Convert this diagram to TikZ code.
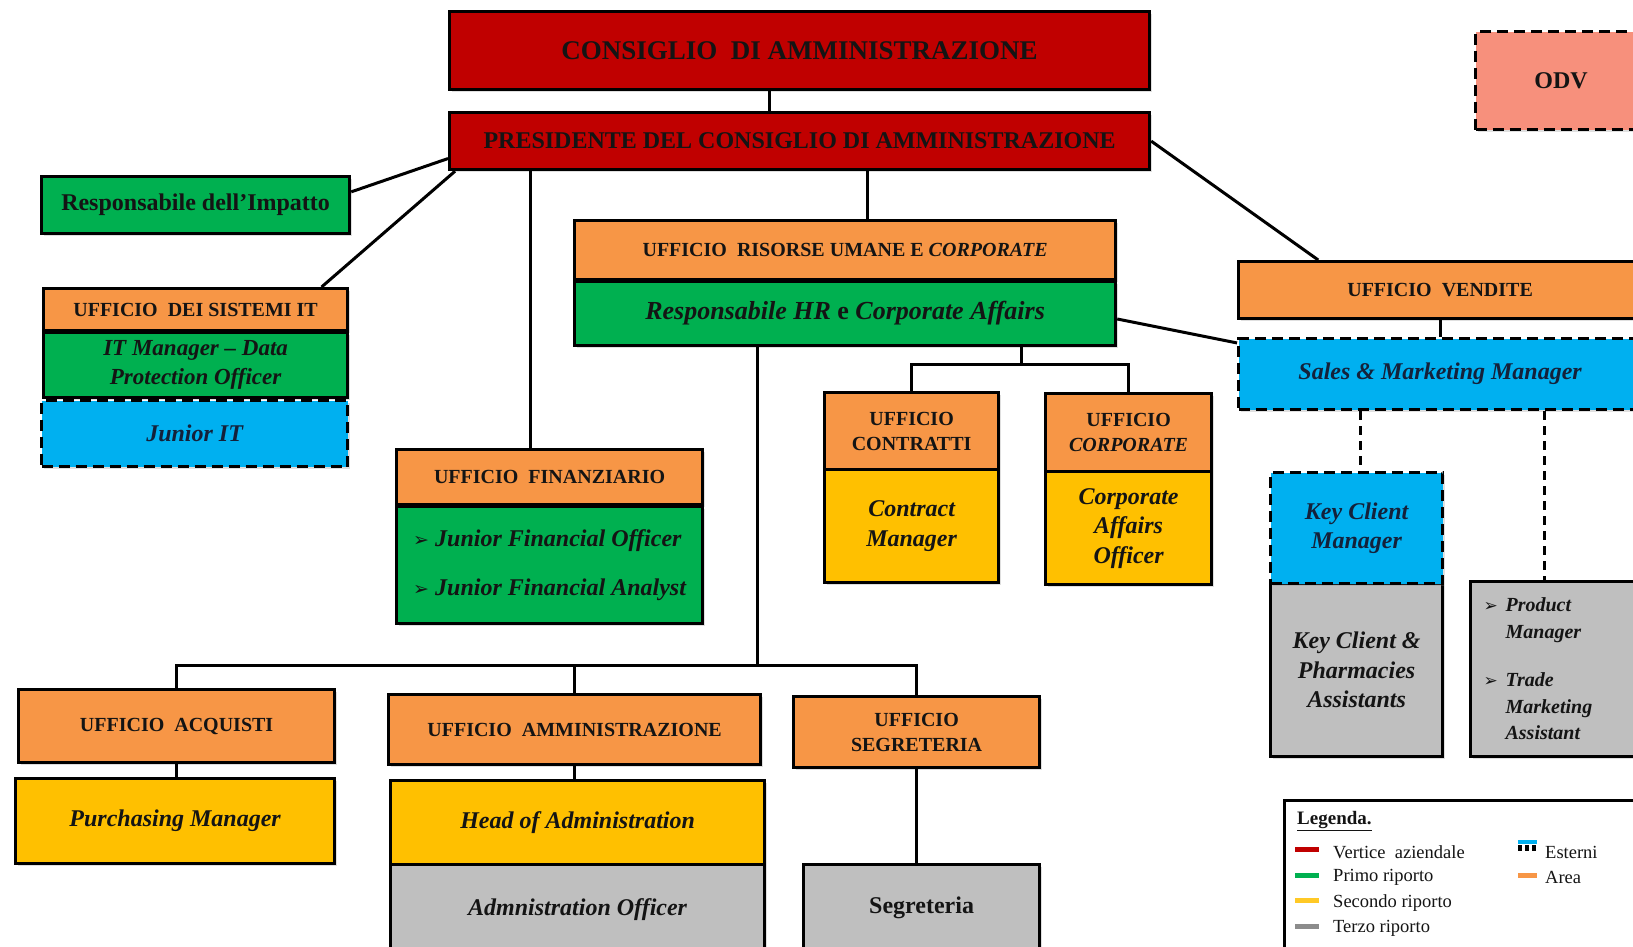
\documentclass[tikz,border=0pt]{standalone}
\usepackage{fontspec}
\setmainfont{Liberation Serif}
\newfontfamily\dejavu{DejaVu Sans}
\usetikzlibrary{calc,shadows}
\definecolor{cred}{HTML}{C00000}
\definecolor{corange}{HTML}{F79646}
\definecolor{cgreen}{HTML}{00B050}
\definecolor{cyellow}{HTML}{FFC000}
\definecolor{cblue}{HTML}{00B0F0}
\definecolor{cgray}{HTML}{BFBFBF}
\definecolor{csalmon}{HTML}{F7907C}
\definecolor{txt}{HTML}{141414}
\definecolor{navy}{HTML}{14213A}
\definecolor{lgray}{HTML}{8C8C8C}
\newcommand{\fs}[2]{\fontsize{#1}{#2}\selectfont}
\newcommand{\bul}[1]{{\dejavu\fontsize{#1}{#1}\selectfont ➢}}
\newcommand{\bx}[7]{%
  \node[#6, anchor=north west, minimum width={(#4)-(#2)}, minimum height={(#5)-(#3)}] (#1) at (#2,#3) {#7};}
\begin{document}
\begin{tikzpicture}[x=1pt,y=-1pt,
  box/.style={draw=black, line width=3.2pt, inner sep=2pt, align=center, text=txt,
    drop shadow={shadow xshift=2.5pt, shadow yshift=-2.5pt, opacity=0.25}},
  dbox/.style={box, dash pattern=on 11pt off 6pt},
  redbox/.style={box, fill=cred},
  orbox/.style={box, fill=corange, font=\bfseries\fs{20}{25}},
  grbox/.style={box, fill=cgreen},
  yebox/.style={box, fill=cyellow},
  blbox/.style={dbox, fill=cblue, text=navy},
  gybox/.style={box, fill=cgray},
  role/.style={font=\bfseries\itshape\fs{24}{29.5}},
  conn/.style={line width=3pt, line join=miter},
  dconn/.style={conn, dash pattern=on 9pt off 6pt},
  legline/.style={line width=5pt},
  legtext/.style={anchor=west, inner sep=0pt, font=\fs{18.5}{22}, text=txt}]
\clip (0,0) rectangle (1633,946);
\fill[white] (0,0) rectangle (1633,946);

% top
\bx{cda}{448}{10}{1148}{88}{redbox, font=\bfseries\fs{27}{32}}{CONSIGLIO\ \ DI AMMINISTRAZIONE}
\bx{pres}{448}{111}{1148}{168}{redbox, font=\bfseries\fs{24}{29}}{PRESIDENTE DEL CONSIGLIO DI AMMINISTRAZIONE}
\bx{odv}{1474}{30}{1645}{128}{dbox, fill=csalmon, font=\bfseries\fs{24}{29}}{ODV}

% left column
\bx{imp}{40}{175}{348}{232}{grbox, font=\bfseries\fs{24}{29}}{Responsabile dell’Impatto}
\bx{ith}{42}{287}{346}{329}{orbox}{UFFICIO\ \ DEI SISTEMI IT}
\bx{itm}{42}{331}{346}{396}{grbox, font=\bfseries\itshape\fs{23}{28.5}}{IT Manager – Data\\Protection Officer}
\bx{jit}{40}{399}{346}{465}{blbox, role}{Junior IT}

% finance
\bx{finh}{395}{448}{701}{503}{orbox}{UFFICIO\ \ FINANZIARIO}
\bx{finb}{395}{505}{701}{622}{grbox, role, align=left}{\makebox[22pt][l]{\bul{19}}Junior Financial Officer\\[20pt]\makebox[22pt][l]{\bul{19}}Junior Financial Analyst}

% HR
\bx{hrh}{573}{219}{1114}{278}{orbox}{UFFICIO\ \ RISORSE UMANE E \textit{CORPORATE}}
\bx{hrb}{573}{280}{1114}{344}{grbox, font=\bfseries\fs{26}{31}}{\textit{Responsabile HR} e \textit{Corporate Affairs}}
\bx{conh}{823}{391}{997}{468}{orbox}{UFFICIO\\CONTRATTI}
\bx{conb}{823}{468}{997}{581}{yebox, role}{Contract\\Manager}
\bx{corh}{1044}{392}{1210}{470}{orbox}{UFFICIO\\\textit{CORPORATE}}
\bx{corb}{1044}{470}{1210}{583}{yebox, role}{Corporate\\Affairs\\Officer}

% sales
\bx{venh}{1237}{260}{1640}{317}{orbox}{UFFICIO\ \ VENDITE}
\bx{smm}{1237}{337}{1640}{408}{blbox, role}{Sales \& Marketing Manager}
\bx{kca}{1269}{582}{1441}{755}{gybox, role}{Key Client \&\\Pharmacies\\Assistants}
\bx{kcm}{1269}{471}{1441}{582}{blbox, role}{Key Client\\Manager}
\bx{prd}{1469}{580}{1650}{755}{gybox, font=\bfseries\itshape\fs{20}{26.5}, align=left, text width=155pt, inner xsep=13pt}{\makebox[22pt][l]{\bul{17}}Product\\\hspace*{22pt}Manager\\[22pt]\makebox[22pt][l]{\bul{17}}Trade\\\hspace*{22pt}Marketing\\\hspace*{22pt}Assistant}

% bottom row
\bx{acqh}{17}{688}{333}{761}{orbox}{UFFICIO\ \ ACQUISTI}
\bx{acqb}{14}{777}{333}{862}{yebox, role}{Purchasing Manager}
\bx{admh}{387}{693}{759}{763}{orbox}{UFFICIO\ \ AMMINISTRAZIONE}
\bx{admb}{389}{779}{763}{863}{yebox, role}{Head of Administration}
\bx{ado}{389}{863}{763}{952}{gybox, role}{Admnistration Officer}
\bx{segh}{792}{695}{1038}{766}{orbox}{UFFICIO\\SEGRETERIA}
\bx{segb}{802}{863}{1038}{950}{gybox, font=\bfseries\fs{24}{29}}{Segreteria}

% connector coordinates
\coordinate (c1) at (769,0);
\coordinate (f1) at (530,0);
\coordinate (h1) at (867,0);
\coordinate (j1) at (1021,364);
\coordinate (j2) at (757,665);
\coordinate (d1) at (1360,0);
\coordinate (d2) at (1544,0);

% connectors
\draw[conn] (cda.south -| c1) -- (pres.north -| c1);
\draw[conn] ($(pres.north west)!0.79!(pres.south west)$) -- ($(imp.north east)!0.28!(imp.south east)$);
\draw[conn] ($(pres.south west)!0.01!(pres.south east)$) -- ($(ith.north west)!0.91!(ith.north east)$);
\draw[conn] (pres.south -| f1) -- (finh.north -| f1);
\draw[conn] (pres.south -| h1) -- (hrh.north -| h1);
\draw[conn] ($(pres.north east)!0.5!(pres.south east)$) -- ($(venh.north west)!0.2!(venh.north east)$);
\draw[conn] ($(hrb.north east)!0.58!(hrb.south east)$) -- ($(smm.north west)!0.08!(smm.south west)$);
\draw[conn] (hrb.south -| j1) -- (j1);
\draw[conn] (conh.north) |- (j1) -| (corh.north);
\draw[conn] (hrb.south -| j2) -- (j2);
\draw[conn] (acqh.north) |- (j2) -| (segh.north);
\draw[conn] (admh.north) -- (admh.north |- j2);
\draw[conn] (acqh.south) -- (acqh.south |- acqb.north);
\draw[conn] (admh.south) -- (admh.south |- admb.north);
\draw[conn] (segh.south) -- (segh.south |- segb.north);
\draw[conn] (venh.south) -- (venh.south |- smm.north);
\draw[dconn] (smm.south -| d1) -- (kcm.north -| d1);
\draw[dconn] (smm.south -| d2) -- (prd.north -| d2);

% legend
\draw[line width=3pt] (1284,800) rectangle (1700,1000);
\node[anchor=west, inner sep=0pt, font=\bfseries\fs{19}{23}, text=txt] (legt) at (1297,821) {\underline{Legenda.}};
\node[legtext] (l1) at (1333,852) {Vertice\ \ aziendale};
\node[legtext] (l2) at (1333,877) {Primo\ riporto};
\node[legtext] (l3) at (1333,903) {Secondo riporto};
\node[legtext] (l4) at (1333,928) {Terzo\ riporto};
\node[legtext] (l5) at (1545,852) {Esterni};
\node[legtext] (l6) at (1545,877) {Area};
\draw[legline, cred] (1295,849) -- (1319,849);
\draw[legline, cgreen] (1295,875) -- (1319,875);
\draw[legline, cyellow!85!white] (1295,900) -- (1319,900);
\draw[legline, lgray] (1295,926) -- (1319,926);
\draw[line width=3.5pt, cblue] (1518,842) -- (1537,842);
\foreach \xx in {1520,1527,1534} \fill[black] (\xx-2,845) rectangle (\xx+2,851);
\draw[legline, corange] (1518,875) -- (1537,875);
\end{tikzpicture}
\end{document}
